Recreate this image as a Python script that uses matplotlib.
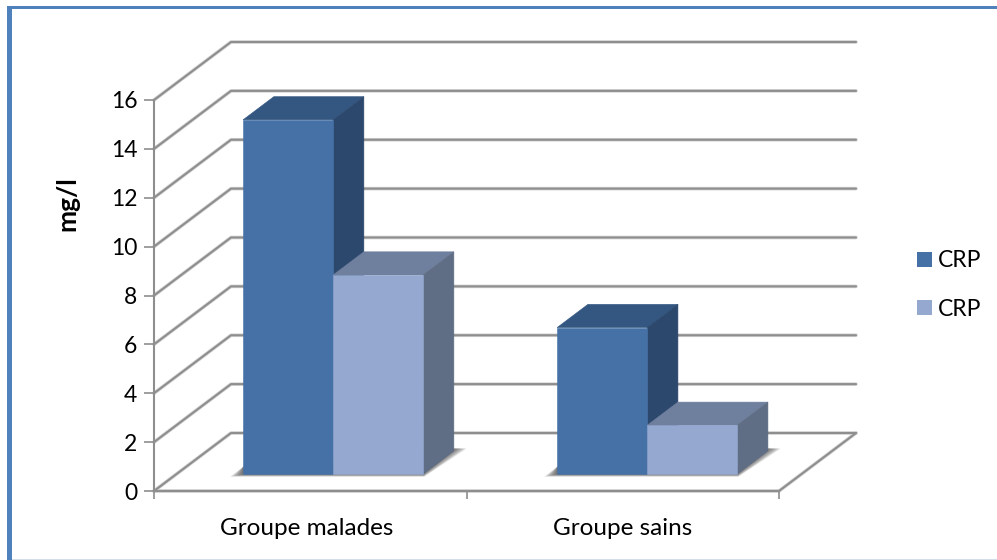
import matplotlib
matplotlib.use("Agg")
import matplotlib.pyplot as plt
from matplotlib.patches import Patch, Polygon, Rectangle
from matplotlib.transforms import ScaledTranslation

plt.rcParams["font.family"] = ["Lato", "DejaVu Sans"]

# CRP par groupe (mg/l)
groupes = ["Groupe malades", "Groupe sains"]
crp_serie1 = [14.5, 6.0]
crp_serie2 = [8.15, 2.0]
series_noms = ["CRP", "CRP"]
yticks = [0, 2, 4, 6, 8, 10, 12, 14, 16]

W, H = 997, 560
X0, X1 = 154, 779      # axe des x, en pixels
Y0, Y1 = 491, 100      # axe des y, en pixels

fig = plt.figure(figsize=(W / 100, H / 100), dpi=100)
ax = fig.add_axes([X0 / W, 1 - Y0 / H, (X1 - X0) / W, (Y0 - Y1) / H])
ax.set_xlim(0, len(groupes))
ax.set_ylim(0, 16)
ax.patch.set_alpha(0)

# vecteur de profondeur de la perspective oblique, en unites de donnees
px_x = (X1 - X0) / len(groupes)
px_y = (Y0 - Y1) / 16
dx = 77 / px_x
dy = 58 / px_y

GRIS = "#8e8e8e"
BLEU = ("#4571a6", "#345781", "#2c486d")
CLAIR = ("#94a8d0", "#6f7f9e", "#5f6d85")
LARGEUR = 90 / px_x
D_AV, D_AR = 0.29, 0.69  # profondeur de l'avant et de l'arriere des barres


def p(x, v, d=0.0):
    # projette (categorie, valeur, profondeur 0-1) vers le plan de l'axe
    return (x + dx * d, v + dy * d)


def ligne(xs, ys, z=1):
    ax.plot(xs, ys, color="#d4d4d4", lw=2.6, clip_on=False, zorder=z,
            solid_capstyle="round", solid_joinstyle="round")
    ax.plot(xs, ys, color=GRIS, lw=1.5, clip_on=False, zorder=z + 0.1,
            solid_capstyle="round", solid_joinstyle="round")


# quadrillage du fond et des parois
for v in yticks:
    a, b, c = p(0, v), p(0, v, 1), p(2, v, 1)
    ligne([a[0], b[0], c[0]], [a[1], b[1], c[1]])
a, b = p(2, 0), p(2, 0, 1)
ligne([a[0], b[0]], [a[1], b[1]])
ligne([0, 2], [0, 0])


def ombre(xg, xd, z):
    # ombre degradee sur le plancher, plus sombre pres de la barre
    ya, xa = p(0, 0, D_AV)[1], p(0, 0, D_AV)[0]
    yb, xb = p(0, 0, D_AR)[1], p(0, 0, D_AR)[0]
    marge = 13 / px_x
    bas = 2.5 / px_y
    n = 10
    for i in range(n):
        f = 1 - i / n
        ax.add_patch(Polygon(
            [(xg + xa - marge * f, ya - bas * f),
             (xd + xa + marge * 0.1 * f, ya - bas * f),
             (xd + xb + marge * f, yb + 0.1),
             (xd + xb, yb + 0.1),
             (xg + xa, ya + 0.3)],
            fc="#404040", ec="none", alpha=0.11, zorder=z, clip_on=False))


def barre(x, v, couleurs, z):
    g, d = x - dx * D_AV, x - dx * D_AV + LARGEUR
    fa = [p(g, 0, D_AV), p(d, 0, D_AV), p(d, v, D_AV), p(g, v, D_AV)]
    de = [p(g, v, D_AV), p(d, v, D_AV), p(d, v, D_AR), p(g, v, D_AR)]
    co = [p(d, 0, D_AV), p(d, 0, D_AR), p(d, v, D_AR), p(d, v, D_AV)]
    ax.add_patch(Polygon(de, fc=couleurs[1], ec=couleurs[1], lw=0.4, zorder=z, clip_on=False))
    ax.add_patch(Polygon(co, fc=couleurs[2], ec=couleurs[2], lw=0.4, zorder=z, clip_on=False))
    ax.add_patch(Polygon(fa, fc=couleurs[0], ec=couleurs[0], lw=0.4, zorder=z + 0.1, clip_on=False))


# bord gauche de la face avant de chaque groupe
bases = [0.285, 1.29]
for i in range(len(groupes)):
    g = bases[i] - dx * D_AV
    ombre(g, g + 2 * LARGEUR, 2.5)
    barre(bases[i], crp_serie1[i], BLEU, 3 + i)
    barre(bases[i] + LARGEUR, crp_serie2[i], CLAIR, 3.3 + i)

# axes
for s in ("top", "right"):
    ax.spines[s].set_visible(False)
for s in ("left", "bottom"):
    ax.spines[s].set_color(GRIS)
    ax.spines[s].set_linewidth(1.5)
    ax.spines[s].set_zorder(2)
ax.set_yticks(yticks)
ax.set_xticks(range(len(groupes) + 1))
ax.set_xticklabels([])
ax.set_xticks([i + 0.5 for i in range(len(groupes))], minor=True)
ax.set_xticklabels(groupes, minor=True)
ax.tick_params(axis="x", which="minor", length=0, pad=19.5, labelsize=17.5, labelcolor="black")
ax.tick_params(axis="x", which="major", length=6, width=1.2, color=GRIS)
ax.tick_params(axis="y", length=7, width=1.2, color=GRIS, pad=5, labelsize=16.5, labelcolor="black")
ax.set_ylabel("mg/l", fontsize=19, fontweight="bold", va="center")
ax.yaxis.set_label_coords(-0.138, 0.734)

# le premier libelle est un peu decale vers la gauche
etiquette = ax.get_xticklabels(minor=True)[0]
etiquette.set_transform(etiquette.get_transform() + ScaledTranslation(-4 / 100, 0, fig.dpi_scale_trans))

# legende
poignees = [Patch(fc=BLEU[0], ec="none"), Patch(fc=CLAIR[0], ec="none")]
fig.legend(poignees, series_noms, loc="center left", bbox_to_anchor=(917 / W, 1 - 285 / H),
           frameon=False, fontsize=16.5, handlelength=0.65, handleheight=0.65,
           handletextpad=0.25, labelspacing=1.19, borderpad=0, borderaxespad=0)

# cadre du graphique
fig.add_artist(Rectangle((7 / W, 0), 5 / W, 1 - 6 / H, transform=fig.transFigure, fc="#4f81bd", ec="none"))
fig.add_artist(Rectangle((7 / W, 1 - 8.7 / H), 1 - 7 / W, 2.7 / H, transform=fig.transFigure, fc="#4f81bd", ec="none"))
fig.add_artist(Rectangle((12 / W, 0), 1, 1 / H, transform=fig.transFigure, fc="#d3deea", ec="none"))

fig.savefig("out.png", dpi=100)
